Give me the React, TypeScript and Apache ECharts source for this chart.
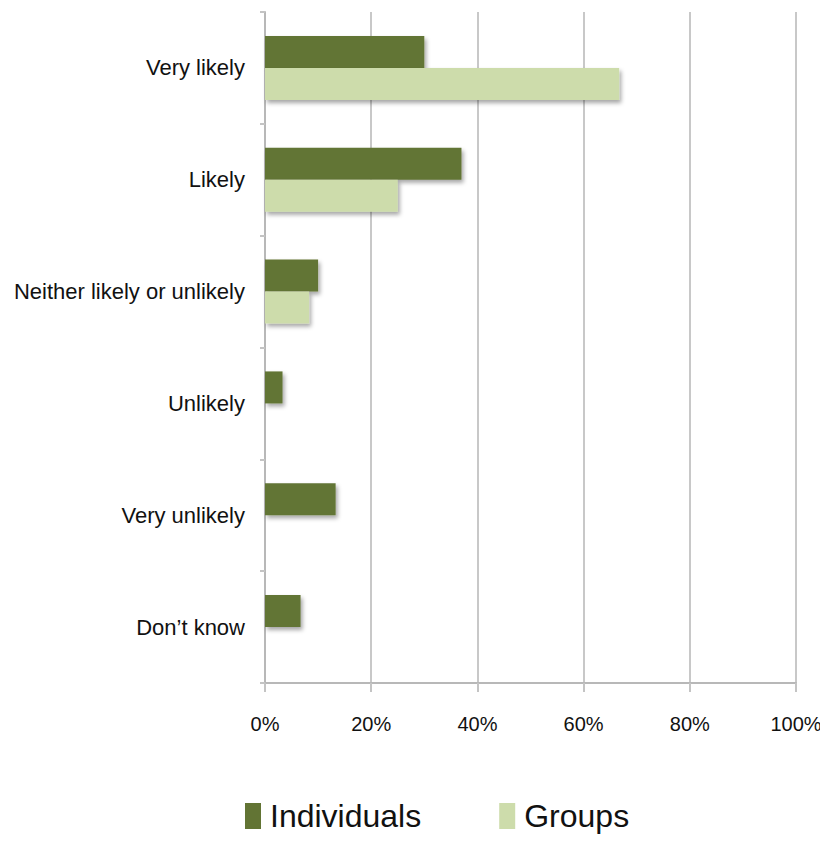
import React, { useEffect, useRef } from "react";
import * as echarts from "echarts";

const categories = ["Very likely", "Likely", "Neither likely or unlikely", "Unlikely", "Very unlikely", "Don\u2019t know"];
const individuals = [30, 37, 10, 3.3, 13.3, 6.7];
const groups = [66.7, 25, 8.3, 0, 0, 0];
const seriesNames = ["Individuals", "Groups"];

const FONT = "'Liberation Sans', Arial, sans-serif";

export default function App() {
  const ref = useRef<HTMLDivElement>(null);
  useEffect(() => {
    if (!ref.current) return;
    const chart = echarts.init(ref.current, undefined, { renderer: "svg" });
    const shadow = {
      shadowColor: "rgba(0,0,0,0.35)",
      shadowBlur: 4,
      shadowOffsetX: 2,
      shadowOffsetY: 3,
    };
    chart.setOption({
      animation: false,
      backgroundColor: "#ffffff",
      grid: { left: 265, right: 32, top: 12, bottom: 163, outerBoundsMode: "none", containLabel: false },
      legend: {
        top: 800,
        left: 245,
        padding: 0,
        itemWidth: 16,
        itemHeight: 26,
        itemGap: 78,
        icon: "rect",
        textStyle: { fontFamily: FONT, fontSize: 32, color: "#111", padding: [0, 0, 0, 4] },
        data: seriesNames,
      },
      xAxis: {
        type: "value",
        min: 0,
        max: 100,
        interval: 20,
        axisLabel: {
          formatter: "{value}%",
          fontFamily: FONT,
          fontSize: 20,
          color: "#111",
          margin: 31,
        },
        axisLine: { show: true, lineStyle: { color: "#b8b8b8", width: 2 } },
        axisTick: { show: true, length: 9, lineStyle: { color: "#c4c4c4", width: 2 } },
        splitLine: { show: true, lineStyle: { color: "#c8c8c8", width: 2 } },
      },
      yAxis: {
        type: "category",
        data: categories,
        inverse: true,
        axisLabel: { fontFamily: FONT, fontSize: 22, color: "#111", margin: 20 },
        axisLine: { show: true, lineStyle: { color: "#b8b8b8", width: 2 } },
        axisTick: { show: true, length: 5, lineStyle: { color: "#c4c4c4", width: 2 } },
      },
      series: [
        {
          name: seriesNames[0],
          type: "bar",
          data: individuals,
          barWidth: 32,
          barGap: "0%",
          itemStyle: { color: "#627434", ...shadow },
        },
        {
          name: seriesNames[1],
          type: "bar",
          data: groups,
          barWidth: 32,
          barGap: "0%",
          itemStyle: { color: "#cddcab", ...shadow },
        },
      ],
    });
    return () => chart.dispose();
  }, []);
  return <div ref={ref} style={{ width: 828, height: 846, margin: -8 }} />;
}
